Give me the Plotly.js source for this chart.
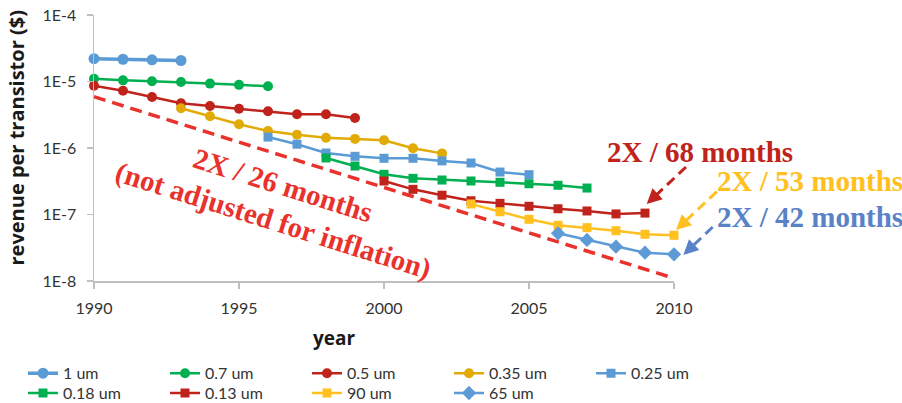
<!DOCTYPE html>
<html>
<head>
<meta charset="utf-8">
<script src="https://cdn.plot.ly/plotly-3.0.1.min.js"></script>
<style>html,body{margin:0;padding:0;background:#fff;}#chart{width:902px;height:403px;}</style>
</head>
<body>
<div id="chart"></div>
<script>
// ---- data ----
const years1um  = [1990, 1991, 1992, 1993];
const rev1um    = [2.2e-5, 2.16e-5, 2.12e-5, 2.07e-5];
const years07   = [1990, 1991, 1992, 1993, 1994, 1995, 1996];
const rev07     = [1.10e-5, 1.04e-5, 1.01e-5, 9.8e-6, 9.3e-6, 8.9e-6, 8.5e-6];
const years05   = [1990, 1991, 1992, 1993, 1994, 1995, 1996, 1997, 1998, 1999];
const rev05     = [8.65e-6, 7.27e-6, 5.85e-6, 4.70e-6, 4.28e-6, 3.90e-6, 3.56e-6, 3.21e-6, 3.21e-6, 2.83e-6];
const years035  = [1993, 1994, 1995, 1996, 1997, 1998, 1999, 2000, 2001, 2002];
const rev035    = [3.96e-6, 3.0e-6, 2.27e-6, 1.80e-6, 1.58e-6, 1.43e-6, 1.37e-6, 1.31e-6, 9.9e-7, 8.3e-7];
const years025  = [1996, 1997, 1998, 1999, 2000, 2001, 2002, 2003, 2004, 2005];
const rev025    = [1.46e-6, 1.14e-6, 8.4e-7, 7.5e-7, 7.0e-7, 7.0e-7, 6.4e-7, 5.95e-7, 4.35e-7, 3.97e-7];
const years018  = [1998, 1999, 2000, 2001, 2002, 2003, 2004, 2005, 2006, 2007];
const rev018    = [7.08e-7, 5.36e-7, 4.02e-7, 3.50e-7, 3.30e-7, 3.19e-7, 3.05e-7, 2.90e-7, 2.75e-7, 2.50e-7];
const years013  = [2000, 2001, 2002, 2003, 2004, 2005, 2006, 2007, 2008, 2009];
const rev013    = [3.19e-7, 2.39e-7, 1.95e-7, 1.61e-7, 1.47e-7, 1.33e-7, 1.22e-7, 1.13e-7, 1.02e-7, 1.05e-7];
const years90   = [2003, 2004, 2005, 2006, 2007, 2008, 2009, 2010];
const rev90     = [1.44e-7, 1.10e-7, 8.47e-8, 6.89e-8, 6.34e-8, 5.71e-8, 5.04e-8, 4.87e-8];
const years65   = [2006, 2007, 2008, 2009, 2010];
const rev65     = [5.21e-8, 4.14e-8, 3.28e-8, 2.67e-8, 2.52e-8];
const trendYears = [1990, 2010];
const trendRev   = [5.9e-6, 1.1e-8];

const seriesNames = ['1 um', '0.7 um', '0.5 um', '0.35 um', '0.25 um', '0.18 um', '0.13 um', '90 um', '65 um'];
const yTickVals = [1e-8, 1e-7, 1e-6, 1e-5, 1e-4];
const yTickText = ['1E-8', '1E-7', '1E-6', '1E-5', '1E-4'];
const xTickVals = [1990, 1995, 2000, 2005, 2010];

// ---- styling ----
const BLUE = '#5B9BD5', GREEN = '#00B050', DRED = '#C0231C', GOLD = '#E2AA05', YEL = '#FFC020', BLUE65 = '#5E9BD6';
const W = 902, H = 403, ML = 94, MR = 228, MT = 15, MB = 122;
const PW = W - ML - MR, PH = H - MT - MB;
const px = v => (v - ML) / PW;       // pixel -> paper x
const py = v => (H - MB - v) / PH;   // pixel -> paper y

function series(x, y, name, color, symbol, size, lw, leg) {
  return {x: x, y: y, name: name, type: 'scatter', mode: 'lines+markers',
    line: {color: color, width: lw}, marker: {color: color, symbol: symbol, size: size},
    cliponaxis: false, legend: leg, hoverinfo: 'x+y'};
}

const traces = [
  {x: trendYears, y: trendRev, type: 'scatter', mode: 'lines', showlegend: false,
   line: {color: '#E8322B', width: 3.5, dash: '12px,7px'}, cliponaxis: false},
  series(years1um, rev1um, seriesNames[0], BLUE, 'circle', 11, 3.5, 'legend'),
  series(years07, rev07, seriesNames[1], GREEN, 'circle', 10, 2.5, 'legend'),
  series(years05, rev05, seriesNames[2], DRED, 'circle', 10, 2.5, 'legend'),
  series(years035, rev035, seriesNames[3], GOLD, 'circle', 10, 2.5, 'legend'),
  series(years025, rev025, seriesNames[4], BLUE, 'square', 9, 2.5, 'legend'),
  series(years018, rev018, seriesNames[5], GREEN, 'square', 9, 2.5, 'legend2'),
  series(years013, rev013, seriesNames[6], DRED, 'square', 9, 2.5, 'legend2'),
  series(years90, rev90, seriesNames[7], YEL, 'square', 9, 2.5, 'legend2'),
  series(years65, rev65, seriesNames[8], BLUE65, 'diamond', 11, 2.5, 'legend2')
];

const serif = 'Liberation Serif, Times New Roman, serif';
const sans = 'Open Sans, Liberation Sans, sans-serif';
const lato = 'Lato, Open Sans, sans-serif';

const arrows = [
  {tail: [686, 167], tip: [646.7, 204], color: DRED},
  {tail: [716.7, 191.7], tip: [676, 230], color: YEL},
  {tail: [712.7, 227], tip: [683.3, 255], color: '#5A82C8'}
];
const shapes = [], arrowAnn = [];
arrows.forEach(a => {
  const dx = a.tail[0] - a.tip[0], dy = a.tail[1] - a.tip[1];
  const L = Math.hypot(dx, dy), ux = dx / L, uy = dy / L;
  shapes.push({type: 'line', xref: 'paper', yref: 'paper',
    x0: px(a.tail[0]), y0: py(a.tail[1]), x1: px(a.tip[0] + ux * 9), y1: py(a.tip[1] + uy * 9),
    line: {color: a.color, width: 3, dash: '10px,6px'}});
  arrowAnn.push({xref: 'paper', yref: 'paper', x: px(a.tip[0]), y: py(a.tip[1]),
    axref: 'pixel', ayref: 'pixel', ax: ux * 12, ay: uy * 12, text: '', showarrow: true,
    arrowhead: 2, arrowsize: 1, arrowwidth: 3, arrowcolor: a.color, standoff: 0});
});

const bigFont = c => ({family: serif, size: 29, color: c, weight: 'bold'});
const annotations = [
  {xref: 'paper', yref: 'paper', x: px(282.5), y: py(185), xanchor: 'center', yanchor: 'middle',
   text: '2X / 26 months', showarrow: false, textangle: 17.5, font: bigFont('#E8322B')},
  {xref: 'paper', yref: 'paper', x: px(273), y: py(220), xanchor: 'center', yanchor: 'middle',
   text: '(not adjusted for inflation)', showarrow: false, textangle: 17.5, font: bigFont('#E8322B')},
  {xref: 'paper', yref: 'paper', x: px(605), y: py(152), xanchor: 'left', yanchor: 'middle',
   text: '2X / 68 months', showarrow: false, font: bigFont(DRED)},
  {xref: 'paper', yref: 'paper', x: px(715), y: py(181), xanchor: 'left', yanchor: 'middle',
   text: '2X / 53 months', showarrow: false, font: bigFont(YEL)},
  {xref: 'paper', yref: 'paper', x: px(715), y: py(217), xanchor: 'left', yanchor: 'middle',
   text: '2X / 42 months', showarrow: false, font: bigFont('#5A82C8')},
  {xref: 'paper', yref: 'paper', x: px(16), y: py(138.5), xanchor: 'center', yanchor: 'middle',
   text: 'revenue per transistor ($)', textangle: -90, showarrow: false,
   font: {family: sans, size: 20, color: '#1a1a1a', weight: 'bold'}},
  {xref: 'paper', yref: 'paper', x: px(334.5), y: py(338), xanchor: 'center', yanchor: 'middle',
   text: 'year', showarrow: false, font: {family: sans, size: 19, color: '#1a1a1a', weight: 'bold'}}
].concat(arrowAnn);

const legendCommon = {orientation: 'h', entrywidth: 97, entrywidthmode: 'pixels', yanchor: 'top',
  bgcolor: 'rgba(0,0,0,0)', font: {family: lato, size: 16, color: '#333333'}, traceorder: 'normal'};

const layout = {
  width: W, height: H,
  margin: {l: ML, r: MR, t: MT, b: MB, autoexpand: false},
  paper_bgcolor: '#ffffff', plot_bgcolor: '#ffffff',
  font: {family: lato, size: 16, color: '#333333'},
  xaxis: {range: [1990, 2010], tickvals: xTickVals, ticktext: xTickVals.map(String),
    showgrid: false, zeroline: false, showline: true, linecolor: '#BFBFBF', linewidth: 1.5,
    ticks: 'outside', ticklen: 6, tickcolor: '#BFBFBF', tickwidth: 1.5, ticklabelstandoff: 6,
    tickfont: {family: lato, size: 16, color: '#333333'}, fixedrange: true},
  yaxis: {type: 'log', range: [-8, -4], tickvals: yTickVals, ticktext: yTickText,
    showgrid: false, zeroline: false, showline: true, linecolor: '#BFBFBF', linewidth: 1.5,
    ticks: 'outside', ticklen: 6, tickcolor: '#BFBFBF', tickwidth: 1.5, ticklabelstandoff: 7,
    tickfont: {family: lato, size: 16, color: '#333333'}, fixedrange: true},
  legend: Object.assign({}, legendCommon, {x: (23 + 710 - ML) / PW, xanchor: 'right', y: py(356.3)}),
  legend2: Object.assign({}, legendCommon, {x: px(23), xanchor: 'left', y: py(376.1)}),
  shapes: shapes,
  annotations: annotations,
  showlegend: true
};

Plotly.newPlot('chart', traces, layout, {displayModeBar: false, staticPlot: true});
</script>
</body>
</html>
